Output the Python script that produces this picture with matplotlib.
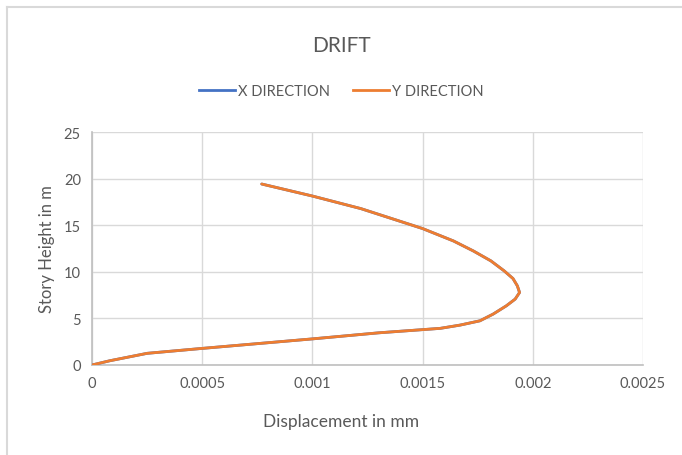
import matplotlib
matplotlib.use("Agg")
import matplotlib.pyplot as plt
from matplotlib.lines import Line2D

plt.rcParams['font.family'] = ['Lato', 'DejaVu Sans']

# Data (X and Y coincide)
story_height = [0, 0.45, 1.25, 1.78, 2.8, 3.45, 3.93, 4.28, 4.74, 5.46, 6.35, 7.07,
                7.78, 8.49, 9.28, 10.1, 11.17, 12.24, 13.31, 14.64, 16.78, 18.13, 19.42]
x_direction = [0, 0.00008, 0.00025, 0.0005, 0.001, 0.0013, 0.00158, 0.00167, 0.00176,
               0.00182, 0.00188, 0.00192, 0.00194, 0.00193, 0.00191, 0.00187, 0.00181,
               0.00173, 0.00164, 0.0015, 0.00122, 0.001, 0.00077]
y_direction = [0, 0.00008, 0.00025, 0.0005, 0.001, 0.0013, 0.00158, 0.00167, 0.00176,
               0.00182, 0.00188, 0.00192, 0.00194, 0.00193, 0.00191, 0.00187, 0.00181,
               0.00173, 0.00164, 0.0015, 0.00122, 0.001, 0.00077]
series_names = ["X DIRECTION", "Y DIRECTION"]
series_colors = ["#4472C4", "#ED7D31"]
x_ticks = [0, 0.0005, 0.001, 0.0015, 0.002, 0.0025]
x_tick_labels = ["0", "0.0005", "0.001", "0.0015", "0.002", "0.0025"]
y_ticks = [0, 5, 10, 15, 20, 25]

fig = plt.figure(figsize=(6.82, 4.56), dpi=100)
ax = fig.add_axes([0.1349, 0.1974, 0.8079, 0.5109])

text_color = "#595959"
for xs, color, name in zip([x_direction, y_direction], series_colors, series_names):
    ax.plot(xs, story_height, color=color, lw=2.0, solid_joinstyle="round",
            solid_capstyle="round", zorder=3, label=name)

ax.set_xlim(0, 0.0025)
ax.set_ylim(0, 25)
ax.set_xticks(x_ticks)
ax.set_xticklabels(x_tick_labels)
ax.set_yticks(y_ticks)
ax.grid(True, color="#D9D9D9", lw=1.0)
ax.set_axisbelow(True)
for s in ["top", "right"]:
    ax.spines[s].set_visible(False)
for s in ["left", "bottom"]:
    ax.spines[s].set_color("#BFBFBF")
    ax.spines[s].set_linewidth(1.2)
ax.tick_params(length=0, colors=text_color, labelsize=10.5, pad=8)
ax.set_ylabel("Story Height in m", color=text_color, fontsize=12, labelpad=6)

fig.text(0.5, 0.90, "DRIFT", ha="center", va="center", fontsize=15, color=text_color)
fig.text(341 / 682, 1 - 422 / 456, "Displacement in mm", ha="center", va="center",
         fontsize=12.5, color=text_color)

handles = [Line2D([], [], color=c, lw=2.0) for c in series_colors]
fig.legend(handles, series_names, loc="center", bbox_to_anchor=(0.5, 0.798),
           ncol=2, frameon=False, fontsize=10.5, labelcolor=text_color,
           handlelength=2.5, handletextpad=0.15, columnspacing=1.6)

# chart area border
fig.add_artist(Line2D([7 / 682, 7 / 682], [0, 1 - 8 / 456], color="#D9D9D9", lw=1.5,
                      transform=fig.transFigure))
fig.add_artist(Line2D([7 / 682, 1], [1 - 8 / 456, 1 - 8 / 456], color="#D9D9D9", lw=1.5,
                      transform=fig.transFigure))

fig.savefig("out.png", dpi=100)
